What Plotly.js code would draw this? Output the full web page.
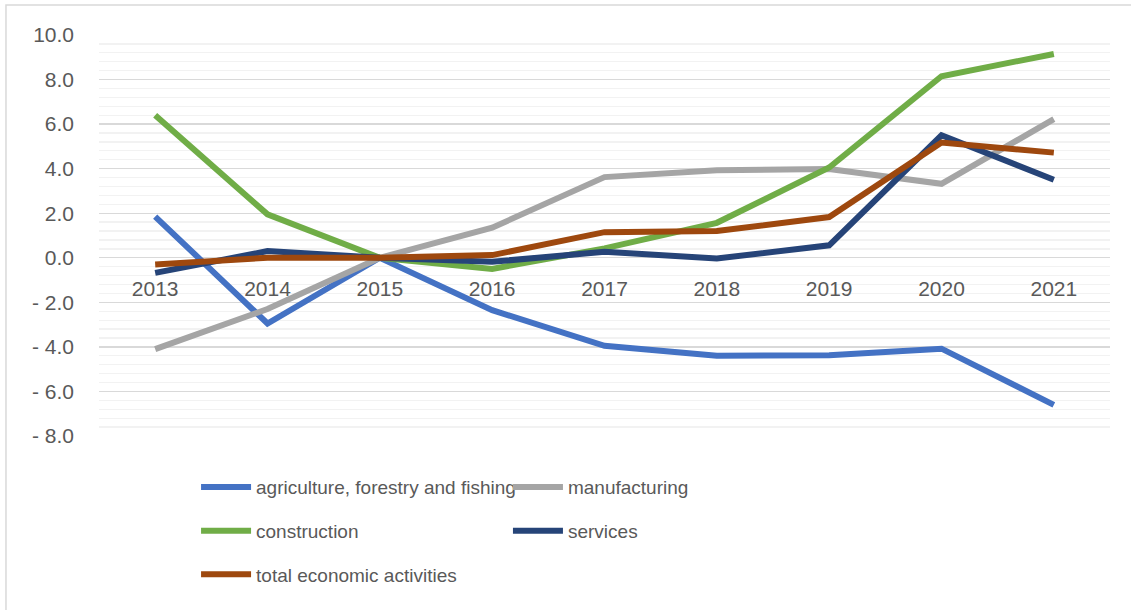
<!DOCTYPE html>
<html>
<head>
<meta charset="utf-8">
<script src="https://cdn.plot.ly/plotly-3.0.1.min.js"></script>
<style>html,body{margin:0;padding:0;background:#fff;}#chart{width:1131px;height:610px;}</style>
</head>
<body>
<div id="chart"></div>
<script>
var years = ['2013','2014','2015','2016','2017','2018','2019','2020','2021'];
var agriculture = [1.85, -2.95, 0.0, -2.35, -3.95, -4.4, -4.38, -4.08, -6.6];
var manufacturing = [-4.1, -2.3, 0.0, 1.35, 3.62, 3.93, 3.98, 3.32, 6.22];
var construction = [6.4, 1.95, 0.0, -0.5, 0.42, 1.57, 4.05, 8.15, 9.15];
var services = [-0.68, 0.3, 0.0, -0.18, 0.27, -0.03, 0.56, 5.5, 3.5];
var total = [-0.3, 0.0, 0.0, 0.12, 1.15, 1.2, 1.83, 5.17, 4.72];
var yTickVals = [10, 8, 6, 4, 2, 0, -2, -4, -6, -8];
var yTickText = ['10.0', '8.0', '6.0', '4.0', '2.0', '0.0', '- 2.0', '- 4.0', '- 6.0', '- 8.0'];

var names = ['agriculture, forestry and fishing', 'manufacturing', 'construction', 'services', 'total economic activities'];
var colors = ['#4472C4', '#A5A5A5', '#70AD47', '#264478', '#9E480E'];
var series = [agriculture, manufacturing, construction, services, total];
var legends = ['legend', 'legend2', 'legend', 'legend2', 'legend'];

var traces = series.map(function (s, i) {
  return {
    x: years, y: s, type: 'scatter', mode: 'lines', name: names[i],
    line: {color: colors[i], width: 6},
    legend: legends[i], legendgroup: 'g' + i, hoverinfo: 'x+y'
  };
});

var fontFam = 'Liberation Sans, Arial, sans-serif';
var legendCommon = {
  orientation: 'v', yanchor: 'top', xanchor: 'left',
  font: {family: fontFam, size: 19, color: '#595959'},
  tracegroupgap: 16, itemwidth: 50, bgcolor: 'rgba(0,0,0,0)', traceorder: 'grouped'
};

var layout = {
  width: 1131, height: 610,
  margin: {l: 99, r: 21, t: 35, b: 174},
  paper_bgcolor: '#fff', plot_bgcolor: '#fff',
  showlegend: true,
  xaxis: {
    type: 'category', anchor: 'free', position: 8 / 18, range: [-0.5, 8.5], automargin: false,
    showgrid: false, showline: false, zeroline: false, ticks: '', tickangle: 0,
    ticklabelstandoff: 16,
    tickfont: {family: fontFam, size: 21, color: '#595959'}
  },
  yaxis: {
    range: [-8, 10], tickmode: 'array', tickvals: yTickVals, ticktext: yTickText, automargin: false,
    showgrid: true, gridcolor: '#D9D9D9', gridwidth: 1.3,
    zeroline: false, showline: false, ticks: '', ticklabelstandoff: 24,
    tickfont: {family: fontFam, size: 21, color: '#595959'},
    minor: {tickmode: 'linear', tick0: 0, dtick: 0.4, showgrid: true, gridcolor: '#F2F2F2', gridwidth: 1.3, ticks: ''}
  },
  legend: Object.assign({}, legendCommon, {x: 0.096, y: -0.08}),
  legend2: Object.assign({}, legendCommon, {x: 0.4045, y: -0.08}),
  shapes: [
    {type: 'path', xref: 'paper', yref: 'paper',
     path: 'M -0.092 -0.45 L -0.092 1.0748 L 1.03 1.0748',
     line: {color: '#D9D9D9', width: 1.5}}
  ]
};

Plotly.newPlot('chart', traces, layout, {displayModeBar: false, staticPlot: true});
</script>
</body>
</html>
